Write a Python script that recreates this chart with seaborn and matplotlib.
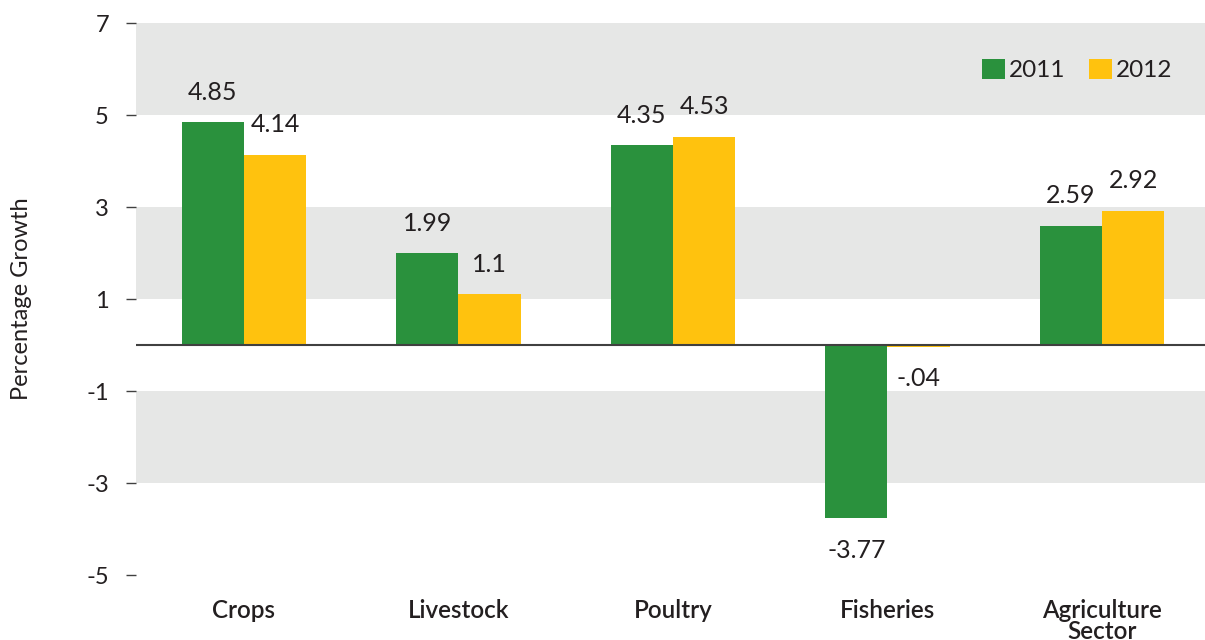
import matplotlib
matplotlib.use("Agg")
import matplotlib.pyplot as plt
import seaborn as sns
import pandas as pd

categories = ["Crops", "Livestock", "Poultry", "Fisheries", "Agriculture\nSector"]
years = ["2011", "2012"]
values_2011 = [4.85, 1.99, 4.35, -3.77, 2.59]
values_2012 = [4.14, 1.1, 4.53, -0.04, 2.92]
labels_2011 = ["4.85", "1.99", "4.35", "-3.77", "2.59"]
labels_2012 = ["4.14", "1.1", "4.53", "-.04", "2.92"]
yticks = [7, 5, 3, 1, -1, -3, -5]

sns.set_theme(style="white")
plt.rcParams["font.family"] = ["Lato", "DejaVu Sans"]

df = pd.DataFrame({
    "category": categories * 2,
    "year": [years[0]] * len(categories) + [years[1]] * len(categories),
    "value": values_2011 + values_2012,
})

green = "#2A913D"
yellow = "#FFC20E"
txt = "#231F20"

fig = plt.figure(figsize=(12.05, 6.4), dpi=100)
ax = fig.add_axes([136 / 1205, 65 / 640, 1 - 136 / 1205, (575 - 23) / 640])

# background bands
for lo, hi in [(5, 7), (1, 3), (-3, -1)]:
    ax.axhspan(lo, hi, color="#E6E7E6", zorder=0, lw=0)

sns.barplot(data=df, x="category", y="value", hue="year", order=categories,
            hue_order=years, palette=[green, yellow], width=0.58,
            saturation=1, ax=ax, zorder=2, legend=True, linewidth=0,
            edgecolor="none")

ax.axhline(0, color="#404040", lw=1.5, zorder=3)

ax.set_ylim(-5, 7)
ax.set_xlim(-0.503, 4.48)
ax.set_yticks(yticks)
ax.set_yticklabels([str(t) for t in yticks], fontsize=17, color=txt)
ax.tick_params(axis="y", left=True, length=7.5, width=1, color="#404040", pad=12)
ax.tick_params(axis="x", bottom=False, pad=11)
ax.set_xticks(range(len(categories)))
ax.set_xticklabels(categories, fontsize=17.5, color=txt, fontweight="semibold",
                   linespacing=0.9, va="top")
for s in ax.spines.values():
    s.set_visible(False)
ax.set_xlabel("")
ax.set_ylabel("Percentage Growth", fontsize=17, color=txt, labelpad=39)

# value labels
for container, labs in zip(ax.containers, [labels_2011, labels_2012]):
    for bar, lab in zip(container, labs):
        v = bar.get_height()
        xc = bar.get_x() + bar.get_width() / 2
        off = 21.5 if v >= 0 else -23
        ax.annotate(lab, (xc, v), xytext=(0, off), textcoords="offset points",
                    ha="center", va="center", fontsize=18, color=txt)

leg = ax.legend(loc="center right", bbox_to_anchor=(0.99, 0.915), ncol=2,
                frameon=False, fontsize=17.5, handlelength=0.95, handleheight=0.95,
                handletextpad=0.15, columnspacing=1.0, labelcolor=txt)

fig.savefig("out.png", dpi=100)
